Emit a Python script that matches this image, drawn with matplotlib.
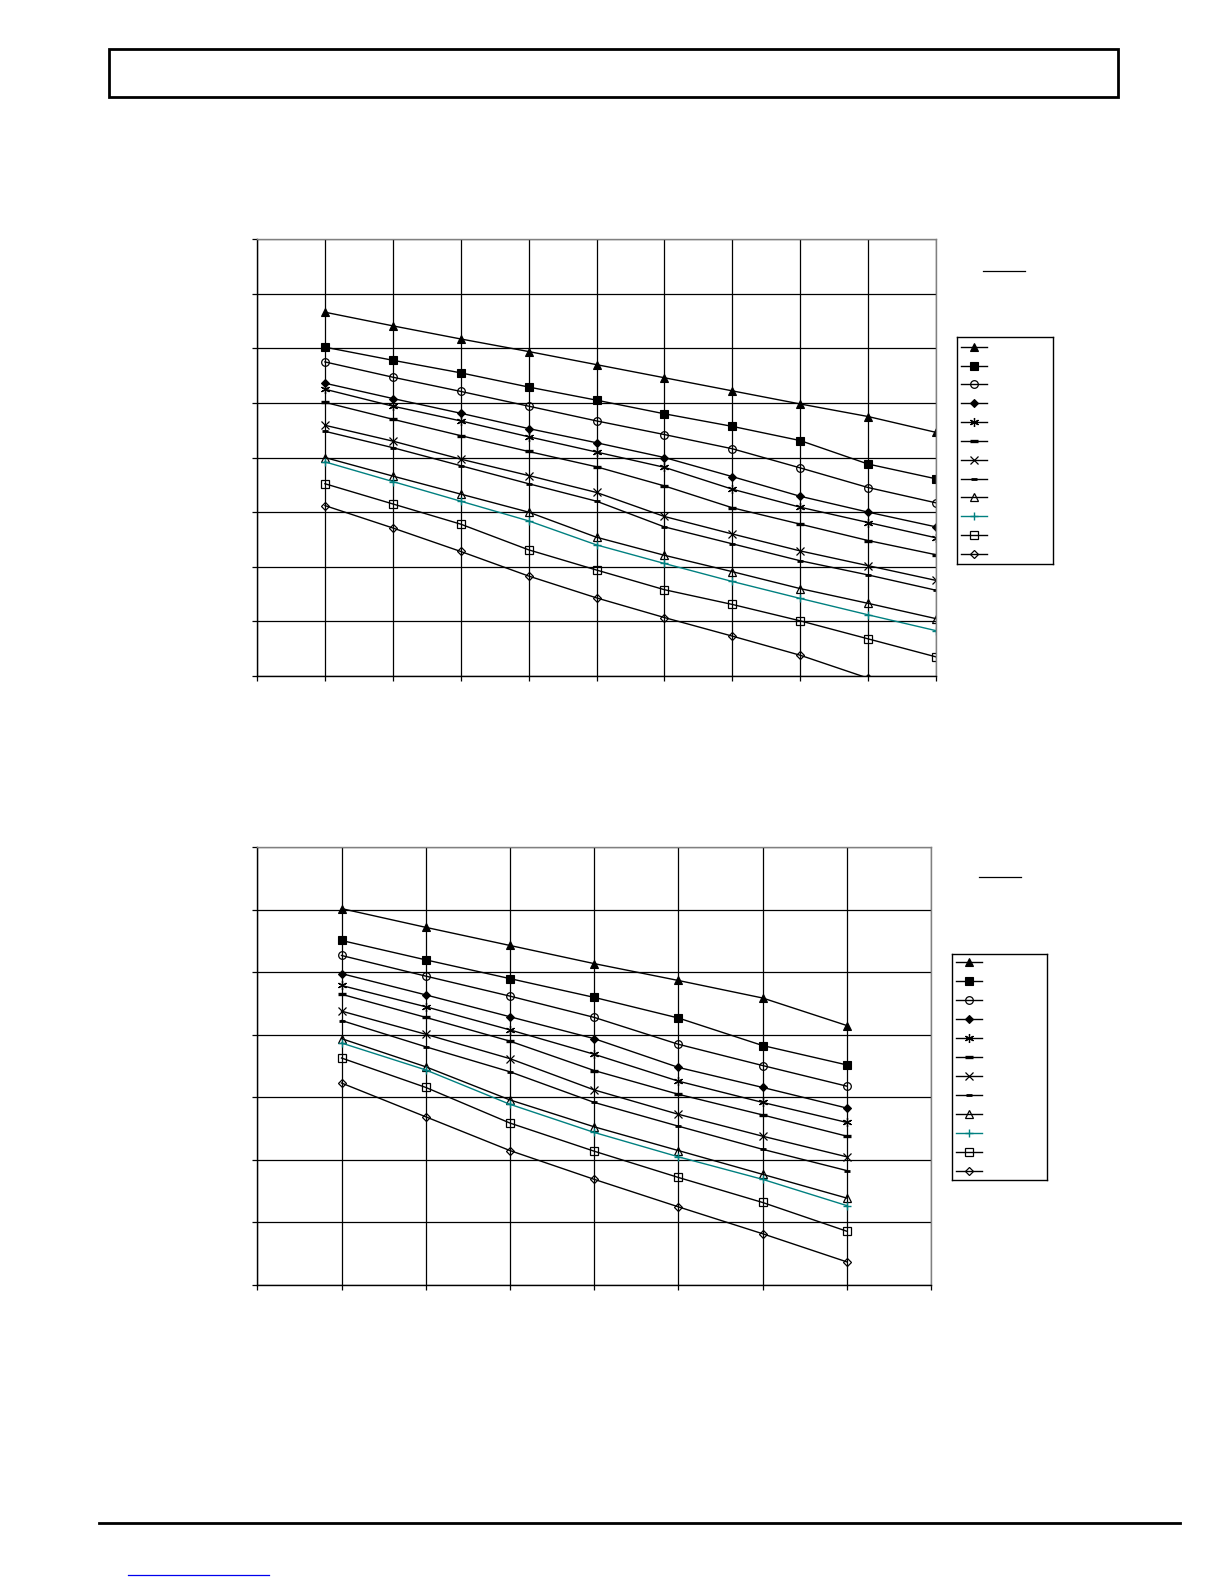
import matplotlib
matplotlib.use("Agg")
import matplotlib.pyplot as plt
from matplotlib.patches import Rectangle

W, H = 1225, 1585

# upper chart: 10 points per curve (grid units)
x_upper = [1, 2, 3, 4, 5, 6, 7, 8, 9, 10]
up_tri_f = [6.66, 6.41, 6.17, 5.94, 5.70, 5.46, 5.22, 4.98, 4.75, 4.46]
up_sq_f = [6.02, 5.78, 5.55, 5.29, 5.05, 4.80, 4.57, 4.31, 3.88, 3.61]
up_circ = [5.75, 5.47, 5.21, 4.94, 4.67, 4.42, 4.16, 3.81, 3.45, 3.17]
up_dia_f = [5.36, 5.08, 4.81, 4.53, 4.27, 4.00, 3.65, 3.29, 3.00, 2.73]
up_star = [5.25, 4.94, 4.67, 4.38, 4.10, 3.82, 3.42, 3.09, 2.81, 2.53]
up_dash = [5.01, 4.70, 4.40, 4.11, 3.83, 3.48, 3.08, 2.78, 2.48, 2.22]
up_x = [4.59, 4.30, 3.97, 3.67, 3.36, 2.92, 2.60, 2.29, 2.02, 1.75]
up_dash2 = [4.48, 4.18, 3.85, 3.52, 3.20, 2.73, 2.42, 2.11, 1.85, 1.57]
up_tri_o = [4.00, 3.66, 3.33, 3.00, 2.54, 2.21, 1.91, 1.60, 1.33, 1.05]
up_plus = [3.92, 3.56, 3.20, 2.84, 2.40, 2.06, 1.73, 1.42, 1.12, 0.83]
up_sq_o = [3.52, 3.15, 2.78, 2.31, 1.94, 1.58, 1.31, 1.01, 0.68, 0.35]
up_dia_o = [3.12, 2.71, 2.28, 1.83, 1.43, 1.07, 0.73, 0.38, -0.04, -0.53]

# lower chart: 7 points per curve
x_lower = [1, 2, 3, 4, 5, 6, 7]
lo_tri_f = [6.02, 5.72, 5.43, 5.14, 4.87, 4.59, 4.15]
lo_sq_f = [5.51, 5.20, 4.90, 4.60, 4.27, 3.83, 3.52]
lo_circ = [5.27, 4.94, 4.62, 4.28, 3.85, 3.51, 3.18]
lo_dia_f = [4.98, 4.64, 4.29, 3.94, 3.48, 3.16, 2.83]
lo_star = [4.79, 4.45, 4.08, 3.69, 3.26, 2.92, 2.60]
lo_dash = [4.65, 4.28, 3.90, 3.43, 3.05, 2.72, 2.38]
lo_x = [4.38, 4.01, 3.62, 3.12, 2.73, 2.38, 2.05]
lo_dash2 = [4.23, 3.81, 3.41, 2.92, 2.54, 2.17, 1.83]
lo_tri_o = [3.94, 3.49, 2.96, 2.53, 2.15, 1.77, 1.39]
lo_plus = [3.87, 3.44, 2.89, 2.44, 2.05, 1.69, 1.27]
lo_sq_o = [3.63, 3.16, 2.59, 2.14, 1.72, 1.32, 0.86]
lo_dia_o = [3.23, 2.69, 2.15, 1.69, 1.25, 0.82, 0.37]

upper_series = [up_tri_f, up_sq_f, up_circ, up_dia_f, up_star, up_dash,
                up_x, up_dash2, up_tri_o, up_plus, up_sq_o, up_dia_o]
lower_series = [lo_tri_f, lo_sq_f, lo_circ, lo_dia_f, lo_star, lo_dash,
                lo_x, lo_dash2, lo_tri_o, lo_plus, lo_sq_o, lo_dia_o]

TEAL = "#008080"
# marker, size, face, edge width, line colour
styles = [
    ("^", 6.0, "black", 0.8, "black"),
    ("s", 6.0, "black", 0.8, "black"),
    ("o", 5.5, "none", 0.9, "black"),
    ("D", 4.0, "black", 0.8, "black"),
    ((6, 2, 0), 6.5, "black", 0.9, "black"),
    ("_", 6.0, "black", 2.4, "black"),
    ("x", 5.5, "black", 0.9, "black"),
    ("_", 4.5, "black", 2.0, "black"),
    ("^", 6.0, "none", 0.9, "black"),
    ("+", 5.5, TEAL, 1.0, TEAL),
    ("s", 6.0, "none", 0.9, "black"),
    ("D", 4.5, "none", 0.9, "black"),
]


def style_kw(st):
    marker, ms, face, mew, col = st
    return dict(marker=marker, markersize=ms, markerfacecolor=face,
                markeredgecolor=col, markeredgewidth=mew, color=col, lw=1.0)


def px_box(x0, y0, x1, y1):
    return [x0 / W, 1 - y1 / H, (x1 - x0) / W, (y1 - y0) / H]


def make_chart(fig, box, xs, series, nx, ny):
    ax = fig.add_axes(px_box(*box))
    ax.set_xlim(0, nx)
    ax.set_ylim(0, ny)
    ax.set_xticks(range(nx + 1))
    ax.set_yticks(range(ny + 1))
    ax.set_xticklabels([])
    ax.set_yticklabels([])
    ax.grid(True, color="black", lw=0.9)
    ax.set_axisbelow(True)
    ax.tick_params(direction="out", length=3.5, width=0.9, color="black")
    for s in ("top", "right"):
        ax.spines[s].set_color("#808080")
    for s in ("left", "bottom"):
        ax.spines[s].set_color("black")
    for sp in ax.spines.values():
        sp.set_linewidth(1.0)
    for ys, st in zip(series, styles):
        ax.plot(xs, ys, **style_kw(st))
    return ax


def make_legend(fig, box, first, step):
    x0, y0, x1, y1 = box
    lg = fig.add_axes(px_box(*box))
    lg.set_xlim(0, x1 - x0)
    lg.set_ylim(y1 - y0, 0)
    lg.set_xticks([])
    lg.set_yticks([])
    for sp in lg.spines.values():
        sp.set_color("black")
        sp.set_linewidth(1.0)
    for i, st in enumerate(styles):
        yy = first + i * step
        lg.plot([3.7, 30], [yy, yy], color=st[4], lw=1.0)
        lg.plot([16.8], [yy], linestyle="none", **{k: v for k, v in style_kw(st).items() if k != "lw"})


fig = plt.figure(figsize=(W / 100, H / 100), dpi=100)

# page decorations
page = fig.add_axes([0, 0, 1, 1])
page.set_xlim(0, W)
page.set_ylim(H, 0)
page.axis("off")
page.add_patch(Rectangle((109, 48.5), 1009, 48.5, fill=False, ec="black", lw=2.0))
page.plot([99, 1180], [1523, 1523], color="black", lw=2.0)
page.plot([128, 269], [1575, 1575], color="#0000ee", lw=0.9)
page.plot([983, 1025], [271.3, 271.3], color="black", lw=0.9)
page.plot([979, 1021], [876.7, 876.7], color="black", lw=0.9)

make_chart(fig, (257, 239, 936, 676), x_upper, upper_series, 10, 8)
make_chart(fig, (257.3, 847.3, 931, 1285), x_lower, lower_series, 8, 7)

make_legend(fig, (957.3, 336.7, 1052.7, 564.3), 10.0, 18.85)
make_legend(fig, (952.3, 953.7, 1046.7, 1179.5), 8.6, 18.95)

fig.savefig("out.png", dpi=100)
